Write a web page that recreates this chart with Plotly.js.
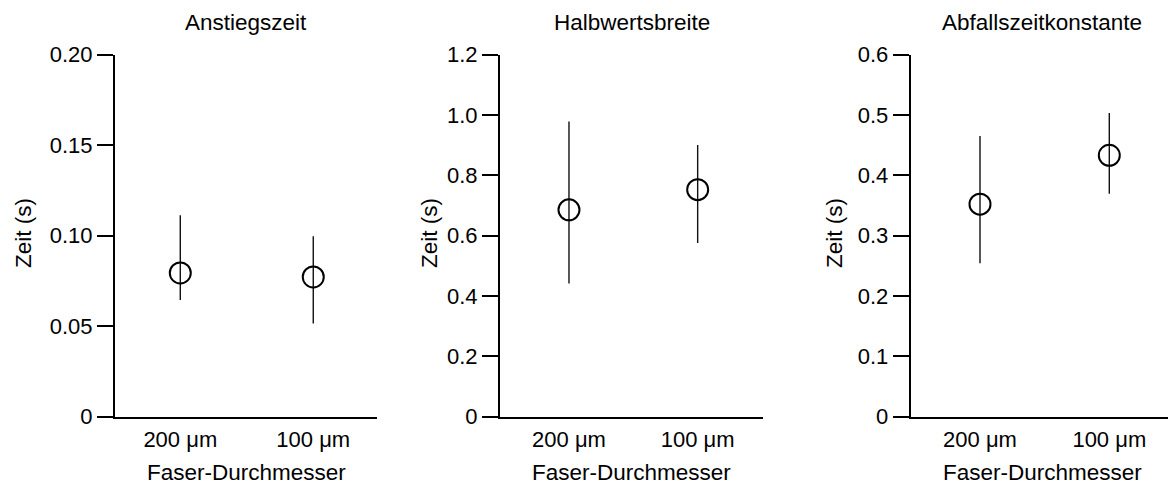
<!DOCTYPE html>
<html>
<head>
<meta charset="utf-8">
<script src="https://cdn.plot.ly/plotly-3.0.1.min.js"></script>
<style>html,body{margin:0;padding:0;background:#fff;}#chart{width:1168px;height:486px;}</style>
</head>
<body>
<div id="chart"></div>
<script>
// Categories (x axis)
const categories = ['200 \u03bcm', '100 \u03bcm'];

// Panel titles
const panelTitles = ['Anstiegszeit', 'Halbwertsbreite', 'Abfallszeitkonstante'];
const yTitle = 'Zeit (s)';
const xTitle = 'Faser-Durchmesser';

// Anstiegszeit: mean, upper and lower end of error bar
const anstiegMean = [0.0793, 0.0771];
const anstiegHigh = [0.1112, 0.0996];
const anstiegLow  = [0.0643, 0.0514];

// Halbwertsbreite
const halbMean = [0.685, 0.752];
const halbHigh = [0.978, 0.900];
const halbLow  = [0.441, 0.575];

// Abfallszeitkonstante
const abfallMean = [0.352, 0.433];
const abfallHigh = [0.465, 0.503];
const abfallLow  = [0.254, 0.369];

// Y tick values and labels
const yTicks1 = [0, 0.05, 0.10, 0.15, 0.20];
const yLabels1 = ['0', '0.05', '0.10', '0.15', '0.20'];
const yTicks2 = [0, 0.2, 0.4, 0.6, 0.8, 1.0, 1.2];
const yLabels2 = ['0', '0.2', '0.4', '0.6', '0.8', '1.0', '1.2'];
const yTicks3 = [0, 0.1, 0.2, 0.3, 0.4, 0.5, 0.6];
const yLabels3 = ['0', '0.1', '0.2', '0.3', '0.4', '0.5', '0.6'];

const FONT = 'Liberation Sans, Arial, sans-serif';
const W = 1168, H = 486;

function trace(mean, hi, lo, xa, ya) {
  return {
    type: 'scatter', mode: 'markers',
    x: categories, y: mean, xaxis: xa, yaxis: ya,
    marker: {symbol: 'circle-open', size: 21, color: '#000', line: {color: '#000', width: 2}},
    error_y: {
      type: 'data', symmetric: false,
      array: hi.map((v, i) => v - mean[i]),
      arrayminus: mean.map((v, i) => v - lo[i]),
      color: '#111', thickness: 1.4, width: 0
    },
    showlegend: false, hoverinfo: 'skip'
  };
}

const data = [
  trace(anstiegMean, anstiegHigh, anstiegLow, 'x', 'y'),
  trace(halbMean, halbHigh, halbLow, 'x2', 'y2'),
  trace(abfallMean, abfallHigh, abfallLow, 'x3', 'y3')
];

const yDom = [1 - 416.5 / H, 1 - 54.5 / H];
const xDoms = [[115 / W, 376.7 / W], [500 / W, 763.3 / W], [910.7 / W, 1]];
const xRanges = [[-0.491, 1.477], [-0.536, 1.510], [-0.536, 1.454]];

function xaxis(i) {
  return {
    domain: xDoms[i], range: xRanges[i], type: 'category',
    showline: true, linecolor: '#000', linewidth: 2,
    ticks: '', showgrid: false, zeroline: false, fixedrange: true,
    ticklabelstandoff: 2,
    tickfont: {family: FONT, size: 22, color: '#000'},
    anchor: i === 0 ? 'y' : 'y' + (i + 1)
  };
}
function yaxis(i, tv, tt, rng) {
  return {
    domain: yDom, range: rng, tickvals: tv, ticktext: tt,
    showline: true, linecolor: '#000', linewidth: 2,
    ticks: 'outside', ticklen: 16, tickwidth: 2, tickcolor: '#000',
    showgrid: false, zeroline: false, fixedrange: true,
    tickfont: {family: FONT, size: 22, color: '#000'},
    anchor: i === 0 ? 'x' : 'x' + (i + 1)
  };
}

const titleX = [246, 631.5, 1042];
const yTitleX = [23, 429, 834];
const annotations = [];
for (let i = 0; i < 3; i++) {
  annotations.push({
    text: panelTitles[i], xref: 'paper', yref: 'paper',
    x: titleX[i] / W, y: 1 - 22.5 / H, xanchor: 'center', yanchor: 'middle',
    showarrow: false, font: {family: FONT, size: 22.5, color: '#000'}
  });
  annotations.push({
    text: yTitle, xref: 'paper', yref: 'paper', textangle: -90,
    x: yTitleX[i] / W, y: 1 - 233 / H, xanchor: 'center', yanchor: 'middle',
    showarrow: false, font: {family: FONT, size: 22.5, color: '#000'}
  });
  annotations.push({
    text: xTitle, xref: 'paper', yref: 'paper',
    x: titleX[i] / W, y: 1 - 472.5 / H, xanchor: 'center', yanchor: 'middle',
    showarrow: false, font: {family: FONT, size: 22.5, color: '#000'}
  });
}

const layout = {
  width: W, height: H,
  margin: {l: 0, r: 0, t: 0, b: 0},
  paper_bgcolor: '#fff', plot_bgcolor: 'rgba(0,0,0,0)',
  font: {family: FONT, color: '#000'},
  xaxis: xaxis(0), xaxis2: xaxis(1), xaxis3: xaxis(2),
  yaxis: yaxis(0, yTicks1, yLabels1, [0, 0.2]),
  yaxis2: yaxis(1, yTicks2, yLabels2, [0, 1.2]),
  yaxis3: yaxis(2, yTicks3, yLabels3, [0, 0.6]),
  annotations: annotations
};

Plotly.newPlot('chart', data, layout, {displayModeBar: false, staticPlot: true});
</script>
</body>
</html>
